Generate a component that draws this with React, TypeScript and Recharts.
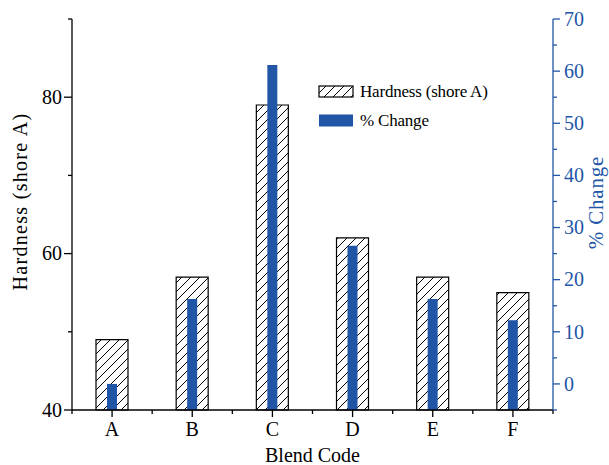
import { BarChart, Bar, XAxis, YAxis, Legend } from 'recharts';

const CODES = ['A', 'B', 'C', 'D', 'E', 'F'];
const HARDNESS = [49, 57, 79, 62, 57, 55];
const PCT_CHANGE = [0, 16.3, 61.2, 26.5, 16.3, 12.2];

const HARD_DOMAIN = [40, 90];
const HARD_TICKS = [40, 50, 60, 70, 80, 90];
const PCT_DOMAIN = [-5, 70];
const PCT_TICKS = [-5, 0, 5, 10, 15, 20, 25, 30, 35, 40, 45, 50, 55, 60, 65, 70];

const SERIES_NAMES = ['Hardness (shore A)', '% Change'];
const X_TITLE = 'Blend Code';
const Y_LEFT_TITLE = 'Hardness (shore A)';
const Y_RIGHT_TITLE = '% Change';

const data = CODES.map((code, i) => ({
  code,
  hardness: HARDNESS[i],
  pct: [PCT_DOMAIN[0], PCT_CHANGE[i]],
}));

const FONT = "'Liberation Serif', 'Times New Roman', serif";
const BLUE = '#2156a6';
const LINE_W = 1.3;

function CatTick(props: any) {
  const { x, y, payload, index, visibleTicksCount, width, showLabel } = props;
  const half = payload.offset ?? width / visibleTicksCount / 2;
  const last = index === visibleTicksCount - 1;
  return (
    <g>
      <line x1={x} x2={x} y1={y} y2={y + 7} stroke="#000" strokeWidth={LINE_W} />
      <line x1={x - half} x2={x - half} y1={y} y2={y + 4} stroke="#000" strokeWidth={LINE_W} />
      {last && <line x1={x + half} x2={x + half} y1={y} y2={y + 4} stroke="#000" strokeWidth={LINE_W} />}
      {showLabel && (
        <text x={x} y={y + 26} textAnchor="middle" fontFamily={FONT} fontSize={20} fill="#000">
          {payload.value}
        </text>
      )}
    </g>
  );
}

function LeftTick(props: any) {
  const { x, y, payload } = props;
  const major = payload.value % 20 === 0;
  return (
    <g>
      <line x1={x - (major ? 8 : 4)} x2={x} y1={y} y2={y} stroke="#000" strokeWidth={LINE_W} />
      {major && (
        <text x={x - 10} y={y} dy="0.34em" textAnchor="end" fontFamily={FONT} fontSize={20} fill="#000">
          {payload.value}
        </text>
      )}
    </g>
  );
}

function RightTick(props: any) {
  const { x, y, payload } = props;
  const major = payload.value % 10 === 0;
  return (
    <g>
      <line x1={x} x2={x + (major ? 7 : 4)} y1={y} y2={y} stroke={BLUE} strokeWidth={LINE_W} />
      {major && (
        <text x={x + 11} y={y} dy="0.34em" textAnchor="start" fontFamily={FONT} fontSize={20} fill={BLUE}>
          {payload.value}
        </text>
      )}
    </g>
  );
}

function LegendBox() {
  return (
    <div style={{ fontFamily: FONT, fontSize: 17, color: '#000', letterSpacing: -0.2 }}>
      <div style={{ display: 'flex', alignItems: 'center', height: 29 }}>
        <svg width={36} height={13} style={{ marginRight: 6 }}>
          <rect x={1} y={1} width={34} height={11} fill="url(#hatch)" stroke="#000" strokeWidth={1.2} />
        </svg>
        <span>{SERIES_NAMES[0]}</span>
      </div>
      <div style={{ display: 'flex', alignItems: 'center', height: 29 }}>
        <svg width={36} height={13} style={{ marginRight: 6 }}>
          <rect x={1} y={0.5} width={34} height={12} fill={BLUE} />
        </svg>
        <span>{SERIES_NAMES[1]}</span>
      </div>
    </div>
  );
}

export default function App() {
  return (
    <div style={{ position: 'absolute', left: 0, top: 0, width: 609, height: 465, background: '#fff' }}>
      <svg width={0} height={0} style={{ position: 'absolute' }}>
        <defs>
          <pattern id="hatch" patternUnits="userSpaceOnUse" width={9} height={9}>
            <rect width={9} height={9} fill="#fff" />
            <path d="M0,9 L9,0 M-2.25,2.25 L2.25,-2.25 M6.75,11.25 L11.25,6.75" stroke="#000" strokeWidth={1} />
          </pattern>
        </defs>
      </svg>
      <BarChart width={609} height={465} data={data} margin={{ top: 19, right: 0, bottom: 0, left: 0 }}>
        <XAxis
          xAxisId="cat"
          dataKey="code"
          height={55}
          interval={0}
          tickSize={0}
          tickMargin={0}
          tickLine={false}
          axisLine={{ stroke: '#000', strokeWidth: LINE_W }}
          tick={(p: any) => <CatTick {...p} showLabel />}
          label={(p: any) => {
            const vb = p.viewBox;
            return (
              <text x={vb.x + vb.width / 2} y={vb.y + 52} textAnchor="middle" fontFamily={FONT} fontSize={20} fill="#000">
                {X_TITLE}
              </text>
            );
          }}
        />
        <XAxis
          xAxisId="top"
          dataKey="code"
          orientation="top"
          mirror
          height={0}
          interval={0}
          tickSize={0}
          tickMargin={0}
          tickLine={false}
          axisLine={{ stroke: '#000', strokeWidth: LINE_W }}
          tick={(p: any) => <CatTick {...p} />}
        />
        <YAxis
          yAxisId="hard"
          width={72}
          domain={HARD_DOMAIN}
          ticks={HARD_TICKS}
          interval={0}
          tickSize={0}
          tickMargin={0}
          tickLine={false}
          axisLine={{ stroke: '#000', strokeWidth: LINE_W }}
          tick={(p: any) => <LeftTick {...p} />}
          label={(p: any) => {
            const vb = p.viewBox;
            const cx = vb.x + 21;
            const cy = vb.y + vb.height / 2 - 13;
            return (
              <text x={cx} y={cy} transform={`rotate(-90 ${cx} ${cy})`} textAnchor="middle" dy="0.3em" fontFamily={FONT} fontSize={20} letterSpacing={1.3} fill="#000">
                {Y_LEFT_TITLE}
              </text>
            );
          }}
        />
        <YAxis
          yAxisId="pct"
          orientation="right"
          width={56}
          domain={PCT_DOMAIN}
          ticks={PCT_TICKS}
          interval={0}
          tickSize={0}
          tickMargin={0}
          tickLine={false}
          axisLine={{ stroke: BLUE, strokeWidth: LINE_W }}
          tick={(p: any) => <RightTick {...p} />}
          label={(p: any) => {
            const vb = p.viewBox;
            const cx = vb.x + 44;
            const cy = vb.y + vb.height / 2 - 12;
            return (
              <text x={cx} y={cy} transform={`rotate(-90 ${cx} ${cy})`} textAnchor="middle" dy="0.3em" fontFamily={FONT} fontSize={21} letterSpacing={0.8} fill={BLUE}>
                {Y_RIGHT_TITLE}
              </text>
            );
          }}
        />
        <Legend
          layout="vertical"
          align="center"
          verticalAlign="middle"
          wrapperStyle={{ left: 318, top: 77, width: 'auto' }}
          content={() => <LegendBox />}
        />
        <Bar
          xAxisId="cat"
          yAxisId="hard"
          dataKey="hardness"
          name={SERIES_NAMES[0]}
          barSize={32}
          fill="url(#hatch)"
          stroke="#000"
          strokeWidth={1.2}
          isAnimationActive={false}
        />
        <Bar
          xAxisId="top"
          yAxisId="pct"
          dataKey="pct"
          name={SERIES_NAMES[1]}
          barSize={10}
          fill={BLUE}
          isAnimationActive={false}
        />
      </BarChart>
    </div>
  );
}
